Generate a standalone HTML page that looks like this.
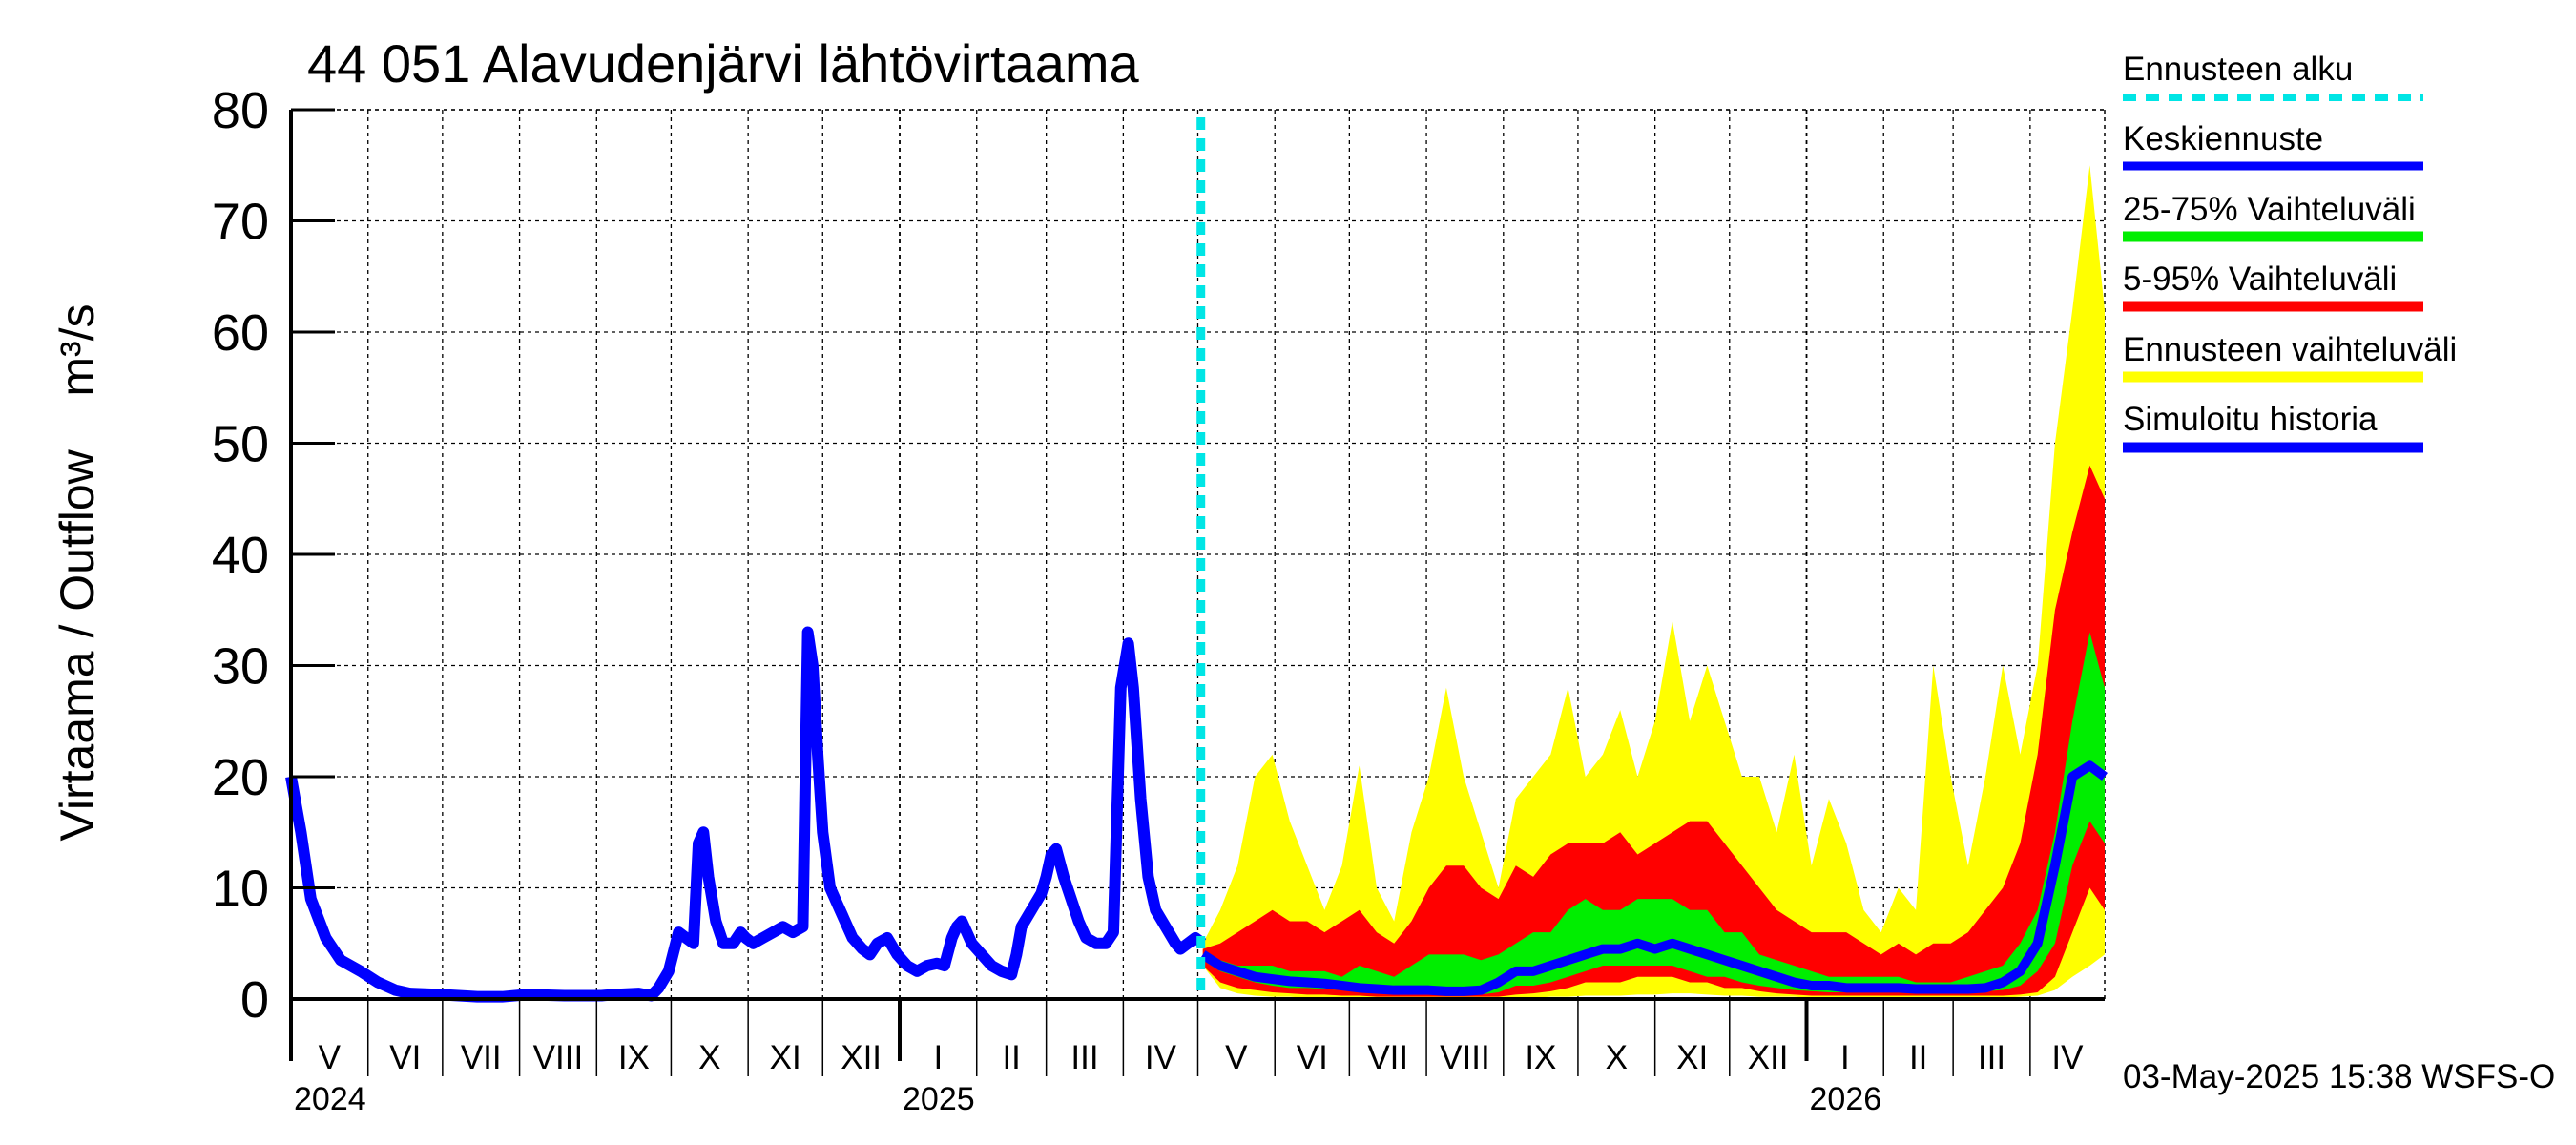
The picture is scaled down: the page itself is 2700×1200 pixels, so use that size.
<!DOCTYPE html>
<html><head><meta charset="utf-8"><style>
html,body{margin:0;padding:0;background:#fff}
svg{display:block;font-family:"Liberation Sans",sans-serif}
</style></head><body>
<svg id="chart" width="2700" height="1200" viewBox="0 0 2700 1200">
<text x="322" y="86" font-size="56">44 051 Alavudenjärvi lähtövirtaama</text>
<text transform="translate(98,600) rotate(-90)" text-anchor="middle" font-size="50">Virtaama / Outflow &#160;&#160; m³/s</text>
<g id="grid"></g><g id="bands"></g><g id="lines"></g><g id="axes"></g>
<g font-size="35">
 <g><text x="2225" y="84">Ennusteen alku</text><line x1="2225" y1="102" x2="2540" y2="102" stroke="#00e5e5" stroke-width="8" stroke-dasharray="14,10"/></g>
 <g><text x="2225" y="157">Keskiennuste</text><line x1="2225" y1="174" x2="2540" y2="174" stroke="#0000ff" stroke-width="9"/></g>
 <g><text x="2225" y="231">25-75% Vaihteluväli</text><line x1="2225" y1="248" x2="2540" y2="248" stroke="#00ee00" stroke-width="11"/></g>
 <g><text x="2225" y="304">5-95% Vaihteluväli</text><line x1="2225" y1="321" x2="2540" y2="321" stroke="#ff0000" stroke-width="11"/></g>
 <g><text x="2225" y="378">Ennusteen vaihteluväli</text><line x1="2225" y1="395" x2="2540" y2="395" stroke="#ffff00" stroke-width="11"/></g>
 <g><text x="2225" y="451">Simuloitu historia</text><line x1="2225" y1="469" x2="2540" y2="469" stroke="#0000ff" stroke-width="11"/></g>
</g>
<text x="2225" y="1140" font-size="35">03-May-2025 15:38 WSFS-O</text>
</svg>
<script>
const yTicks=[0,10,20,30,40,50,60,70,80];
const monthLabels=["V","VI","VII","VIII","IX","X","XI","XII","I","II","III","IV","V","VI","VII","VIII","IX","X","XI","XII","I","II","III","IV"];
const monthLengths=[31,30,31,31,30,31,30,31,31,28,31,30,31,30,31,31,30,31,30,31,31,28,31,30];
const yearLabels=["2024","2025","2026"];
const yearDays=[0,245,610];
const forecastStartDay=367;
const histDays=[0,4,8,14,20,28,35,42,48,60,75,85,95,110,125,130,140,145,148,152,156,159,162,164,166,168,171,174,178,181,183,186,190,194,198,202,206,208,210,212,214,217,219,222,226,230,233,236,240,244,248,252,256,260,263,266,268,270,274,278,282,286,290,292,294,298,302,304,306,308,311,314,317,320,324,328,331,334,337,339,342,345,348,352,356,358,361,364,367];
const histVals=[20,15,9,5.5,3.5,2.5,1.5,0.8,0.5,0.4,0.2,0.2,0.4,0.3,0.3,0.4,0.5,0.3,1,2.5,6,5.5,5,14,15,11,7,5,5,6,5.5,5,5.5,6,6.5,6,6.5,33,30,22,15,10,9,7.5,5.5,4.5,4,5,5.5,4,3,2.5,3,3.2,3,5.5,6.5,7,5,4,3,2.5,2.2,4,6.5,8,9.5,11,13,13.5,11,9,7,5.5,5,5,6,28,32,28,18,11,8,6.5,5,4.5,5,5.5,5];
const fcDays=[367,374,381,388,395,402,409,416,423,430,437,444,451,458,465,472,479,486,493,500,507,514,521,528,535,542,549,556,563,570,577,584,591,598,605,612,619,626,633,640,647,654,661,668,675,682,689,696,703,710,717,724,730];
const fcMax=[5,8,12,20,22,16,12,8,12,21,10,7,15,20,28,20,15,10,18,20,22,28,20,22,26,20,25,34,25,30,25,20,20,15,22,12,18,14,8,6,10,8,30,20,12,20,30,22,30,50,62,75,62];
const fc95=[4.5,5,6,7,8,7,7,6,7,8,6,5,7,10,12,12,10,9,12,11,13,14,14,14,15,13,14,15,16,16,14,12,10,8,7,6,6,6,5,4,5,4,5,5,6,8,10,14,22,35,42,48,45];
const fc75=[4,3.5,3,3,3,2.5,2.5,2.5,2,3,2.5,2,3,4,4,4,3.5,4,5,6,6,8,9,8,8,9,9,9,8,8,6,6,4,3.5,3,2.5,2,2,2,2,2,1.5,1.5,1.5,2,2.5,3,5,8,15,25,33,28];
const fcMed=[4,3,2.5,2,1.8,1.6,1.5,1.4,1.2,1,0.9,0.8,0.8,0.8,0.7,0.7,0.8,1.5,2.5,2.5,3,3.5,4,4.5,4.5,5,4.5,5,4.5,4,3.5,3,2.5,2,1.5,1.2,1.2,1,1,1,1,0.9,0.9,0.9,0.9,1,1.5,2.5,5,12,20,21,20];
const fc25=[3.5,2.5,2,1.5,1.2,1,1,0.9,0.8,0.7,0.6,0.5,0.5,0.5,0.4,0.4,0.4,0.6,1.2,1.2,1.5,2,2.5,3,3,3,3,3,2.5,2,2,1.5,1.2,1,0.8,0.7,0.6,0.6,0.6,0.6,0.6,0.6,0.6,0.6,0.6,0.7,0.8,1.2,2.5,5,12,16,14];
const fc5=[3,1.5,1,0.8,0.6,0.5,0.4,0.4,0.3,0.3,0.2,0.2,0.2,0.2,0.2,0.2,0.2,0.2,0.4,0.5,0.7,1,1.5,1.5,1.5,2,2,2,1.5,1.5,1,1,0.7,0.5,0.4,0.3,0.3,0.3,0.3,0.3,0.3,0.3,0.3,0.3,0.3,0.3,0.3,0.4,0.6,2,6,10,8];
const fcMin=[3,1,0.5,0.3,0.2,0.2,0.1,0.1,0.1,0.1,0.1,0.1,0.1,0.1,0.1,0.1,0.1,0.1,0.1,0.1,0.2,0.2,0.3,0.3,0.3,0.4,0.4,0.5,0.5,0.4,0.3,0.3,0.2,0.2,0.2,0.1,0.1,0.1,0.1,0.1,0.1,0.1,0.1,0.1,0.1,0.1,0.1,0.2,0.3,0.8,2,3,4];

const X0=305,X1=2206,TOTAL=730,Y0=1047,YT=115;
const xs=d=>X0+(X1-X0)*d/TOTAL;
const ys=v=>Y0-(Y0-YT)*v/80;
const NS="http://www.w3.org/2000/svg";
function mk(parent,tag,attrs){const e=document.createElementNS(NS,tag);for(const k in attrs)e.setAttribute(k,attrs[k]);document.getElementById(parent).appendChild(e);return e;}

yTicks.forEach(v=>{
  if(v>0){const g=mk('grid','line',{x1:X0,x2:X1,y1:ys(v),y2:ys(v),stroke:'#000','stroke-width':1.3,'stroke-dasharray':'4,4'});
  
  }
  const t=mk('axes','line',{x1:X0,x2:X0+46,y1:ys(v),y2:ys(v),stroke:'#000','stroke-width':3});
  
  
  const l=mk('axes','text',{x:282,y:ys(v)+19,'text-anchor':'end','font-size':54});
  l.textContent=v;
  
  
});
let d=0;
monthLabels.forEach((m,i)=>{
  const xa=xs(d),xb=xs(d+monthLengths[i]);
  const isYear=yearDays.includes(d);
  if(d>0){const g=mk('grid','line',{x1:xa,x2:xa,y1:YT,y2:Y0,stroke:'#000','stroke-width':isYear?1.8:1.3,'stroke-dasharray':'4,4'});
  
  }
  const tk=mk('axes','line',{x1:xa,x2:xa,y1:Y0,y2:isYear?1112:1128,stroke:'#000','stroke-width':isYear?4:1.5});
  
  
  const t=mk('axes','text',{x:(xa+xb)/2,y:1120,'text-anchor':'middle','font-size':35});
  t.textContent=m;
  
  
  d+=monthLengths[i];
});
yearLabels.forEach((y,i)=>{
  const t=mk('axes','text',{x:xs(yearDays[i])+3,y:1163,'font-size':34});
  t.textContent=y;
  
  
});
const tb=mk('grid','line',{x1:X0,x2:X1,y1:YT,y2:YT,stroke:'#000','stroke-width':1.5,'stroke-dasharray':'4,4'});


const rb=mk('grid','line',{x1:X1,x2:X1,y1:YT,y2:Y0,stroke:'#000','stroke-width':1.5,'stroke-dasharray':'4,4'});



function band(up,lo,color,name){
  let p=fcDays.map((dd,i)=>xs(dd)+','+ys(up[i]));
  p=p.concat(fcDays.map((dd,i)=>xs(dd)+','+ys(lo[i])).reverse());
  const e=mk('bands','polygon',{points:p.join(' '),fill:color});
  
  
}
band(fcMax,fcMin,'#ffff00','forecast-range-band');
band(fc95,fc5,'#ff0000','band-5-95');
band(fc75,fc25,'#00ee00','band-25-75');

const med=mk('lines','polyline',{points:fcDays.map((dd,i)=>xs(dd)+','+ys(fcMed[i])).join(' '),fill:'none',stroke:'#0000ff','stroke-width':10,'stroke-linejoin':'round'});


const hist=mk('lines','polyline',{points:histDays.map((dd,i)=>xs(dd)+','+ys(histVals[i])).join(' '),fill:'none',stroke:'#0000ff','stroke-width':12,'stroke-linejoin':'round'});


const fs=mk('lines','line',{x1:xs(forecastStartDay)-2,x2:xs(forecastStartDay)-2,y1:YT+8,y2:Y0,stroke:'#00e5e5','stroke-width':9,'stroke-dasharray':'13,9'});



const ax=mk('axes','line',{x1:X0,x2:X0,y1:YT,y2:Y0,stroke:'#000','stroke-width':4});


const bx=mk('axes','line',{x1:X0,x2:X1,y1:Y0,y2:Y0,stroke:'#000','stroke-width':4});


</script>
</body></html>
